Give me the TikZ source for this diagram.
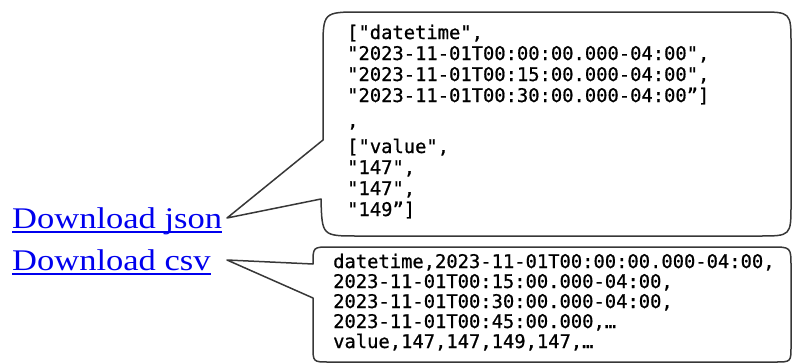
\documentclass[tikz,border=0pt]{standalone}
\usepackage{fontspec,graphicx}
\setmainfont{Liberation Serif}
\newfontfamily\codefont[FakeBold=0.8]{DejaVu Sans Mono}
\definecolor{linkblue}{RGB}{0,0,238}
\definecolor{bubbleline}{RGB}{55,55,55}

\begin{document}
\begin{tikzpicture}[x=1pt, y=-1pt, link node/.style={inner sep=0pt, anchor=base west, text=linkblue, font=\fontsize{30}{36}\selectfont}, code node/.style={inner sep=0pt, anchor=base west, align=left, font=\codefont\fontsize{18.8}{21}\selectfont}, bubble/.style={draw=bubbleline, line width=1.5pt, line join=round}, link rule/.style={draw=linkblue, line width=1.6pt}]
	\useasboundingbox (0,0) rectangle (793,364);

	\node[link node] (json) at (12,228) {\scalebox{1.15}[1]{Download json}};
	\node[link node] (csv) at (12,270) {\scalebox{1.15}[1]{Download csv}};
	\draw[link rule] ([yshift=-4pt]json.base west) -- ([yshift=-4pt]json.base east);
	\draw[link rule] ([yshift=-4pt]csv.base west) -- ([yshift=-4pt]csv.base east);

	\node[code node] (jsontext) at (347,216) {{[}"datetime",\\
		"2023-11-01T00:00:00.000-04:00",\\
		"2023-11-01T00:15:00.000-04:00",\\
		"2023-11-01T00:30:00.000-04:00”{]}\\[4pt]
		,\\[5pt]
		{[}"value",\\
		"147",\\
		"147",\\
		"149”{]}};
	\node[code node, font=\codefont\fontsize{18.8}{20}\selectfont] (csvtext) at (333,348) {datetime,2023-11-01T00:00:00.000-04:00,\\
		2023-11-01T00:15:00.000-04:00,\\
		2023-11-01T00:30:00.000-04:00,\\
		2023-11-01T00:45:00.000,…\\
		value,147,147,149,147,…};

	\coordinate (jsontip) at (227,218);
	\coordinate (csvtip) at (227,260);
	\draw[bubble] (jsontip) -- (323,140) -- (323,50) .. controls (323,12) .. (361,12) -- (759,12) .. controls (791,12) .. (791,44) -- (791,204) .. controls (791,236) .. (759,236) -- (358,236) .. controls (322,236) .. (321,199) -- cycle;
	\draw[bubble] (csvtip) -- (313,264) .. controls (313,247) .. (330,247) -- (771,247) .. controls (791,247) .. (791,267) -- (791,346) .. controls (791,362) .. (775,362) -- (329,362) .. controls (313,362) .. (313,346) -- (313,298) -- cycle;
\end{tikzpicture}
\end{document}
